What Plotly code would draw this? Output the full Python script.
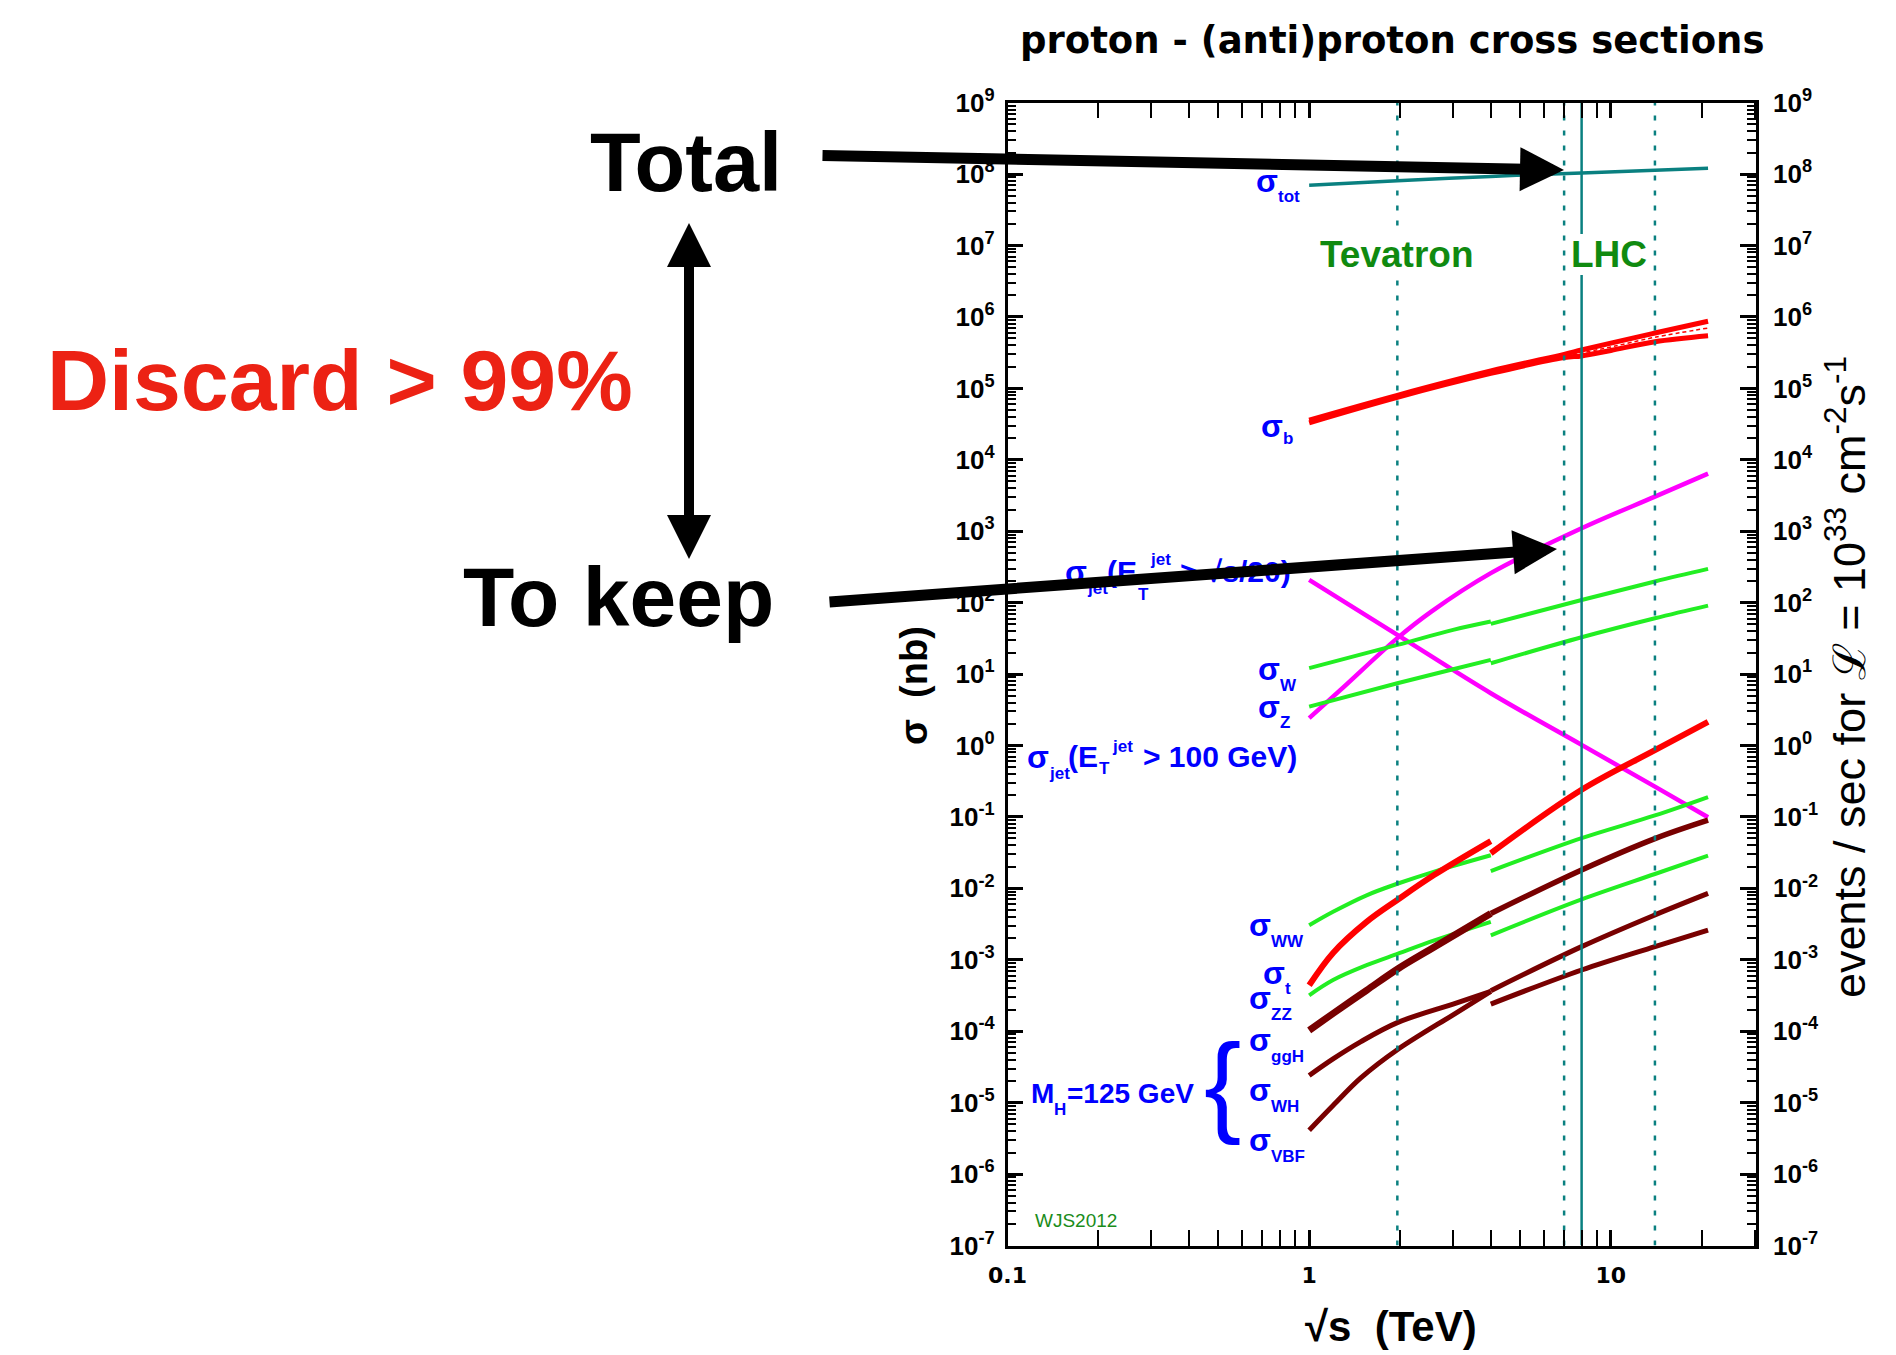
import math
import plotly.graph_objects as go

W, H = 1896, 1355

# ---------------- data (sqrt(s) in TeV, sigma in nb) ----------------
sigma_tot_x = [1.0, 1.96, 4.0, 8.0, 14.0, 21.0]
sigma_tot = [7.0e7, 8.1e7, 9.3e7, 1.04e8, 1.13e8, 1.21e8]

sigma_b_x = [1.0, 1.96, 4.0, 7.0, 8.0, 10.0, 14.0, 21.0]
sigma_b_hi = [3.6e4, 8.0e4, 1.75e5, 3.0e5, 3.45e5, 4.3e5, 5.96e5, 8.7e5]
sigma_b_lo = [3.3e4, 7.5e4, 1.62e5, 2.7e5, 2.85e5, 3.4e5, 4.5e5, 5.46e5]
sigma_b_mid_x = [4.0, 7.0, 8.0, 10.0, 14.0, 21.0]
sigma_b_mid = [1.68e5, 2.85e5, 3.15e5, 3.8e5, 5.2e5, 7.0e5]

jet_sqrt_x = [1.0, 1.96, 4.0, 8.0, 14.0, 21.0]
jet_sqrt = [208, 35.4, 5.4, 1.02, 0.266, 0.099]
jet100_x = [1.0, 1.27, 1.96, 2.54, 4.0, 8.0, 14.0, 21.0]
jet100 = [2.42, 6.0, 31.9, 75, 259, 1100, 3050, 6400]

x_ppbar = [1.0, 1.96, 3.0, 4.0]
x_ppbar5 = [1.0, 1.2, 1.48, 1.96, 3.0, 4.0]
x_ppbar6 = [1.0, 1.2, 1.55, 1.97, 2.6, 4.0]
x_pp = [4.0, 8.0, 14.0, 21.0]

W_ppbar = [12.1, 25.6, 41.6, 54.5]
W_pp = [50.5, 109, 198, 297]
Z_ppbar = [3.5, 7.45, 11.7, 15.8]
Z_pp = [14.2, 32.8, 60.5, 91]

top_ppbar = [4.4e-4, 1.25e-3, 3.4e-3, 7.0e-3, 0.0155, 0.046]
top_pp = [0.031, 0.24, 0.86, 2.15]
WW_ppbar = [3.04e-3, 4.7e-3, 8.0e-3, 0.0117, 0.0172, 0.0291]
WW_pp = [0.0175, 0.0505, 0.105, 0.19]
ZZ_ppbar = [3.18e-4, 5.2e-4, 8.4e-4, 1.22e-3, 1.87e-3, 3.4e-3]
ZZ_pp = [2.2e-3, 7.0e-3, 0.0159, 0.0287]

ggH_ppbar = [1.03e-4, 1.77e-4, 3.74e-4, 7.5e-4, 1.51e-3, 4.45e-3]
ggH_pp = [4.45e-3, 0.0181, 0.0497, 0.09]
WH_ppbar = [2.4e-5, 4.1e-5, 7.1e-5, 1.32e-4, 2.4e-4, 3.6e-4]
WH_pp = [2.4e-4, 7.2e-4, 1.53e-3, 2.6e-3]
VBF_ppbar = [4.1e-6, 9.1e-6, 2.2e-5, 5.5e-5, 1.7e-4, 3.6e-4]
VBF_pp = [3.7e-4, 1.53e-3, 4.25e-3, 8.5e-3]

vline_dotted = [1.96, 7.0, 14.0]
vline_solid = [8.0]

x_tickvals = [0.1, 1, 10]
x_ticktext = ["0.1", "1", "10"]
y_exponents = list(range(-7, 10))

# ---------------- styling ----------------
TEAL = "#0a8080"
RED = "#ff0000"
MAG = "#ff00ff"
GRN = "#22ee22"
DRED = "#780000"
BLUE = "#0000ff"
TXTGRN = "#108a10"
SANS = "Liberation Sans, Arial, Helvetica, sans-serif"

PL, PR, PT, PB = 1007.5, 1756.0, 102.7, 1245.5


def fx(x):
    return x / W


def fy(y):
    return 1 - y / H


fig = go.Figure()


def line(xs, ys, color, width, dash=None, shape="spline"):
    fig.add_trace(go.Scatter(x=xs, y=ys, mode="lines",
                             line=dict(color=color, width=width, dash=dash, shape=shape),
                             hoverinfo="skip", showlegend=False))


line(sigma_tot_x, sigma_tot, TEAL, 3.5)
line(sigma_b_x, sigma_b_lo, RED, 5)
line(sigma_b_x, sigma_b_hi, RED, 5)
line(sigma_b_mid_x, sigma_b_mid, RED, 1.5, dash="4px,3px")
line(jet_sqrt_x, jet_sqrt, MAG, 4.5)
line(jet100_x, jet100, MAG, 4.5)
line(x_ppbar, W_ppbar, GRN, 4)
line(x_pp, W_pp, GRN, 4)
line(x_ppbar, Z_ppbar, GRN, 4)
line(x_pp, Z_pp, GRN, 4)
line(x_ppbar6, WW_ppbar, GRN, 4)
line(x_pp, WW_pp, GRN, 4)
line(x_ppbar6, ZZ_ppbar, GRN, 4)
line(x_pp, ZZ_pp, GRN, 4)
line(x_ppbar6, top_ppbar, RED, 6)
line(x_pp, top_pp, RED, 6)
line(x_ppbar6, ggH_ppbar, DRED, 7)
line(x_pp, ggH_pp, DRED, 5.5)
line(x_ppbar5, WH_ppbar, DRED, 5)
line(x_pp, WH_pp, DRED, 5)
line(x_ppbar5, VBF_ppbar, DRED, 5)
line(x_pp, VBF_pp, DRED, 5)

for v in vline_dotted:
    line([v, v], [1e-7, 1e9], TEAL, 2.5, dash="5px,10px", shape="linear")
for v in vline_solid:
    line([v, v], [1e-7, 1e9], TEAL, 2.5, shape="linear")

# dummy trace for right axis
fig.add_trace(go.Scatter(x=[1], y=[1], yaxis="y2", mode="markers",
                         marker=dict(opacity=0), hoverinfo="skip", showlegend=False))

minor_x = [m * 10.0 ** k for k in (-1, 0, 1) for m in range(2, 10) if m * 10.0 ** k < 30.3]
minor_y = [m * 10.0 ** k for k in range(-7, 9) for m in range(2, 10)]
y_tickvals = [10.0 ** k for k in y_exponents]
y_ticktext = ["10<sup>%d</sup>" % k for k in y_exponents]

tickfont_y = dict(family=SANS, size=26, color="black", weight="bold")

fig.update_layout(
    width=W, height=H, margin=dict(l=0, r=0, t=0, b=0),
    paper_bgcolor="white", plot_bgcolor="white", showlegend=False,
    xaxis=dict(type="log", range=[-1, math.log10(30.28)], domain=[fx(PL), fx(PR)],
               showline=True, linecolor="black", linewidth=2.5, mirror="allticks",
               ticks="inside", ticklen=16, tickwidth=2.5, tickcolor="black",
               tickvals=x_tickvals, ticktext=x_ticktext,
               tickfont=dict(family="DejaVu Sans", size=22, color="black", weight="bold"),
               ticklabelstandoff=8,
               showgrid=False, zeroline=False, automargin=False,
               minor=dict(tickvals=minor_x, ticks="inside", ticklen=9, tickwidth=2,
                          tickcolor="black", showgrid=False)),
    yaxis=dict(type="log", range=[-7, 9], domain=[fy(PB), fy(PT)],
               showline=True, linecolor="black", linewidth=2.5, mirror="allticks",
               ticks="inside", ticklen=16, tickwidth=2.5, tickcolor="black",
               tickvals=y_tickvals, ticktext=y_ticktext, tickfont=tickfont_y,
               ticklabelstandoff=5,
               showgrid=False, zeroline=False, automargin=False,
               minor=dict(tickvals=minor_y, ticks="inside", ticklen=9, tickwidth=2,
                          tickcolor="black", showgrid=False)),
    yaxis2=dict(type="log", range=[-7, 9], overlaying="y", side="right", anchor="x",
                showline=False, ticks="", tickvals=y_tickvals, ticktext=y_ticktext,
                tickfont=tickfont_y, ticklabelstandoff=16,
                showgrid=False, zeroline=False, automargin=False),
)

anns = []


def ann(text, x, y, size, color="black", xanchor="center", yanchor="middle",
        family=SANS, weight="bold", **kw):
    d = dict(text=text, x=fx(x), y=fy(y), xref="paper", yref="paper",
             xanchor=xanchor, yanchor=yanchor, showarrow=False, borderpad=0, borderwidth=0,
             font=dict(family=family, size=size, color=color, weight=weight))
    d.update(kw)
    anns.append(d)


# title
ann("proton - (anti)proton cross sections", 1392, 40.5, 37, family="DejaVu Sans")
# left-hand annotations
ann("Total", 686, 162, 83)
ann("Discard &gt; 99%", 339.5, 380, 86, color="#ec2214")
ann("To keep", 618.5, 597, 84)

# Tevatron / LHC
ann("Tevatron", 1397, 254, 37, color=TXTGRN, bgcolor="white")
ann("LHC", 1608.5, 254, 37, color=TXTGRN, bgcolor="white")

# sigma labels: (sub, split x, sigma centre y, sub centre y)
sig_labels = [
    ("tot", 1276, 183.5, 196), ("b", 1281, 428.5, 438.5),
    ("W", 1278, 671.5, 685.5), ("Z", 1278, 710, 722.5),
    ("WW", 1269, 927.5, 941), ("t", 1283, 975.5, 988.5),
    ("ZZ", 1269, 1000.5, 1014), ("ggH", 1269, 1042.5, 1056),
    ("WH", 1269, 1092.5, 1106), ("VBF", 1269, 1142.5, 1156),
]
for sub, xs, yc, ys in sig_labels:
    ann("σ", xs + 1.5, yc - 2.8, 32, BLUE, xanchor="right")
    ann(sub, xs + 1.5, ys, 17, BLUE, xanchor="left")

# jet labels
ann("σ", 1087, 571.6, 32, BLUE, xanchor="right")
ann("jet", 1087, 588.5, 17, BLUE, xanchor="left")
ann("(E", 1107, 571.6, 30, BLUE, xanchor="left")
ann("T", 1138, 594.5, 17, BLUE, xanchor="left")
ann("jet", 1150, 560, 17, BLUE, xanchor="left")
ann("&gt; √s/20)", 1180, 571.6, 30, BLUE, xanchor="left")

ann("σ", 1049, 756.6, 32, BLUE, xanchor="right")
ann("jet", 1049, 773, 17, BLUE, xanchor="left")
ann("(E", 1068, 756.6, 30, BLUE, xanchor="left")
ann("T", 1099, 768.5, 17, BLUE, xanchor="left")
ann("jet", 1112, 746.5, 17, BLUE, xanchor="left")
ann("&gt; 100 GeV)", 1143, 756.6, 30, BLUE, xanchor="left")

# Higgs
ann("M", 1054, 1093.3, 28, BLUE, xanchor="right")
ann("H", 1054, 1109, 17, BLUE, xanchor="left")
ann("=125 GeV", 1067, 1093.3, 28, BLUE, xanchor="left")
ann("{", 1222, 1083.7, 112, BLUE, weight="normal")

ann("WJS2012", 1075.5, 1220, 19, color="#1a8c1a", weight="normal")

# axis titles
ann("√s  (TeV)", 1391, 1326, 42)
ann("σ  (nb)", 914, 686, 38, textangle=-90)
ann("events / sec for ℒ = 10<sup>33</sup> cm<sup>-2</sup>s<sup>-1</sup>", 1846, 677, 45,
    weight="normal", textangle=-90)


# arrows (drawn last, on top)
def arrow(tail, tip, width, size, both=False):
    d = dict(text="", x=fx(tip[0]), y=fy(tip[1]), xref="paper", yref="paper",
             ax=tail[0] - tip[0], ay=tail[1] - tip[1], axref="pixel", ayref="pixel",
             showarrow=True, arrowhead=2, arrowsize=size, arrowwidth=width,
             arrowcolor="black", standoff=0)
    if both:
        d.update(arrowside="end+start", startarrowhead=2, startarrowsize=size, startstandoff=0)
    anns.append(d)


arrow((821, 155.5), (1564, 170), 11, 0.8)
arrow((828, 602), (1557, 549), 11, 0.8)
arrow((689, 221.5), (689, 559), 10, 0.88, both=True)

fig.update_layout(annotations=anns)

fig.write_html("out.html", config={"displayModeBar": False},
               post_script="document.body.style.margin='0';document.body.style.overflow='hidden';")
